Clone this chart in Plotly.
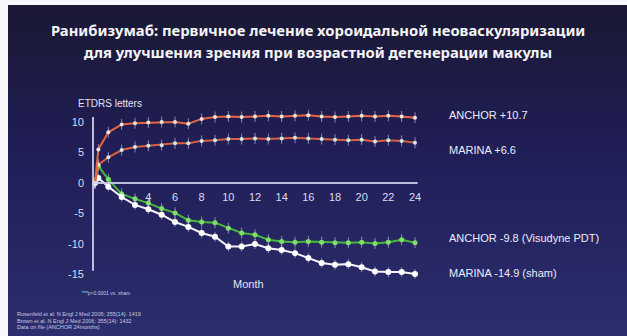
import plotly.graph_objects as go

# Visit times in months (week 1 visit at 0.25)
months = [0, 0.25] + list(range(1, 25))

anchor_rbz = [0, 5.5, 8.3, 9.6, 9.8, 9.9, 10.0, 10.0, 9.7, 10.5, 10.8, 10.9, 10.8, 10.9,
              11.0, 10.9, 11.0, 11.1, 10.9, 10.8, 10.9, 11.0, 10.9, 11.0, 10.9, 10.7]
marina_rbz = [0, 3.0, 4.2, 5.4, 5.9, 6.1, 6.2, 6.5, 6.5, 6.9, 7.0, 7.2, 7.2, 7.3,
              7.2, 7.3, 7.4, 7.3, 7.2, 7.1, 7.0, 7.1, 6.8, 7.0, 6.9, 6.6]
anchor_pdt = [0, 2.8, 0.6, -1.8, -2.6, -3.3, -4.2, -4.9, -6.1, -6.4, -6.5, -7.4, -8.2, -8.5,
              -9.3, -9.6, -9.7, -9.6, -9.7, -9.8, -9.8, -9.7, -9.9, -9.7, -9.3, -9.8]
marina_sham = [0, 0.8, -0.6, -2.3, -3.6, -4.3, -5.2, -6.4, -7.2, -8.2, -8.8, -10.4, -10.4, -10.0,
               -10.7, -11.0, -11.5, -12.3, -13.1, -13.4, -13.3, -13.8, -14.5, -14.6, -14.6, -14.9]

series_labels = ["ANCHOR +10.7", "MARINA +6.6", "ANCHOR -9.8 (Visudyne PDT)", "MARINA -14.9 (sham)"]
label_y = [11.1, 5.4, -9.0, -14.75]

y_ticks = [10, 5, 0, -5, -10, -15]
x_tick_months = list(range(4, 25, 2))

title_lines = ["Ранибизумаб: первичное лечение хороидальной неоваскуляризации",
               "для улучшения зрения при возрастной дегенерации макулы"]
footnote = "***p<0.0001 vs. sham"
references = ["Rosenfeld et al. N Engl J Med 2006; 355(14): 1419",
              "Brown et al. N Engl J Med 2006; 355(14): 1432",
              "Data on file (ANCHOR 24months)"]

W, H = 627, 336
ML, MR, MT, MB = 85, 202, 100, 46
PW, PH = W - ML - MR, H - MT - MB
X_RANGE = [-0.75, 24.75]
Y_RANGE = [-17.54, 13.6]


def px_x(px):
    """Pixel column -> paper x fraction of the plot area."""
    return (px - ML) / PW


def px_y(py):
    """Pixel row (from top) -> paper y fraction of the plot area."""
    return (H - py - MB) / PH


fig = go.Figure()

# Slide background: vertical gradient built from thin bands
top_rgb = (27, 25, 52)
mid_rgb = (33, 31, 88)
bot_rgb = (44, 46, 110)
slide_left, slide_top = 8, 5
n_bands = 60
shapes = []
band_h = (H - slide_top) / n_bands
for i in range(n_bands):
    t = i / (n_bands - 1)
    if t < 0.45:
        u = t / 0.45
        c = [int(top_rgb[k] + (mid_rgb[k] - top_rgb[k]) * u) for k in range(3)]
    else:
        u = (t - 0.45) / 0.55
        c = [int(mid_rgb[k] + (bot_rgb[k] - mid_rgb[k]) * u) for k in range(3)]
    r0 = slide_top + i * band_h
    r1 = r0 + band_h + 0.6
    shapes.append(dict(type="rect", xref="paper", yref="paper", layer="below",
                       x0=px_x(slide_left), x1=px_x(W + 5), y0=px_y(r1), y1=px_y(r0),
                       line=dict(width=0), fillcolor="rgb(%d,%d,%d)" % tuple(c)))

# Light page margin above and left of the slide
page_col = "#f8f8fb"
shapes.append(dict(type="rect", xref="paper", yref="paper", layer="below",
                   x0=px_x(-5), x1=px_x(W + 5), y0=px_y(slide_top), y1=px_y(-5),
                   line=dict(width=0), fillcolor=page_col))
shapes.append(dict(type="rect", xref="paper", yref="paper", layer="below",
                   x0=px_x(-5), x1=px_x(slide_left), y0=px_y(H + 5), y1=px_y(-5),
                   line=dict(width=0), fillcolor=page_col))

# Axis lines
axis_col = "rgba(205,205,235,0.9)"
shapes.append(dict(type="line", xref="x", yref="y", x0=-0.15, x1=-0.15, y0=-14.4, y1=10.8,
                   line=dict(color=axis_col, width=2)))
shapes.append(dict(type="line", xref="x", yref="y", x0=-0.15, x1=24.2, y0=0, y1=0,
                   line=dict(color=axis_col, width=2)))


def add_series(y, line_col, marker_col, msize, err):
    fig.add_trace(go.Scatter(
        x=months, y=y, mode="lines+markers",
        line=dict(color=line_col, width=2),
        marker=dict(color=marker_col, size=msize, line=dict(width=0)),
        error_y=dict(type="constant", value=err, color="rgba(230,220,240,0.55)",
                     thickness=1, width=0),
        showlegend=False, hoverinfo="skip", cliponaxis=False))


add_series(anchor_pdt, "#48b83a", "#7ee06a", 5, 0.9)
add_series(marina_sham, "#f4f4f8", "#ffffff", 6, 0.8)
add_series(marina_rbz, "#d9603e", "#cfe8ea", 4, 0.9)
add_series(anchor_rbz, "#e8653e", "#f6e2e0", 4, 0.9)

# Month tick labels below the zero line
fig.add_trace(go.Scatter(
    x=x_tick_months, y=[-2.5] * len(x_tick_months), mode="text",
    text=[str(m) for m in x_tick_months],
    textfont=dict(family="Liberation Sans", size=11, color="#dcdcf0"),
    showlegend=False, hoverinfo="skip", cliponaxis=False))

annotations = []
for t, yy in zip(series_labels, label_y):
    annotations.append(dict(text=t, xref="paper", yref="y", x=px_x(447), y=yy,
                            xanchor="left", yanchor="middle", showarrow=False,
                            font=dict(family="Liberation Sans", size=11, color="#ececf8")))

annotations.append(dict(text="ETDRS letters", xref="paper", yref="paper",
                        x=px_x(76), y=px_y(104),
                        xanchor="left", yanchor="middle", showarrow=False,
                        font=dict(family="Liberation Sans", size=10, color="#e4e4f4")))
annotations.append(dict(text="Month", xref="x", yref="paper", x=11.5, y=px_y(284),
                        xanchor="center", yanchor="middle", showarrow=False,
                        font=dict(family="Liberation Sans", size=11, color="#e4e4f4")))
annotations.append(dict(text=footnote, xref="paper", yref="paper",
                        x=px_x(80), y=px_y(293),
                        xanchor="left", yanchor="middle", showarrow=False,
                        font=dict(family="Liberation Sans", size=5, color="#c8c8e0")))
for i, r in enumerate(references):
    annotations.append(dict(text=r, xref="paper", yref="paper",
                            x=px_x(15), y=px_y(314 + 6.5 * i),
                            xanchor="left", yanchor="middle", showarrow=False,
                            font=dict(family="Liberation Sans", size=5.5, color="#c8c8e0")))
for i, line in enumerate(title_lines):
    annotations.append(dict(text="<b>%s</b>" % line, xref="paper", yref="paper",
                            x=px_x(318), y=px_y(30 + 22 * i),
                            xanchor="center", yanchor="middle", showarrow=False,
                            font=dict(family="Noto Sans", size=14.8, color="#f4f4f8")))

fig.update_layout(
    width=W, height=H,
    margin=dict(l=ML, r=MR, t=MT, b=MB, pad=0),
    paper_bgcolor="rgb(%d,%d,%d)" % bot_rgb, plot_bgcolor="rgba(0,0,0,0)",
    shapes=shapes, annotations=annotations,
    xaxis=dict(range=X_RANGE, showgrid=False, zeroline=False, showline=False,
               showticklabels=False, ticks=""),
    yaxis=dict(range=Y_RANGE, showgrid=False, zeroline=False, showline=False,
               tickvals=y_ticks, ticktext=[str(v) for v in y_ticks], ticks="",
               ticklabelstandoff=0,
               tickfont=dict(family="Liberation Sans", size=11, color="#dcdcf0")),
)

fig.write_html("out.html")
